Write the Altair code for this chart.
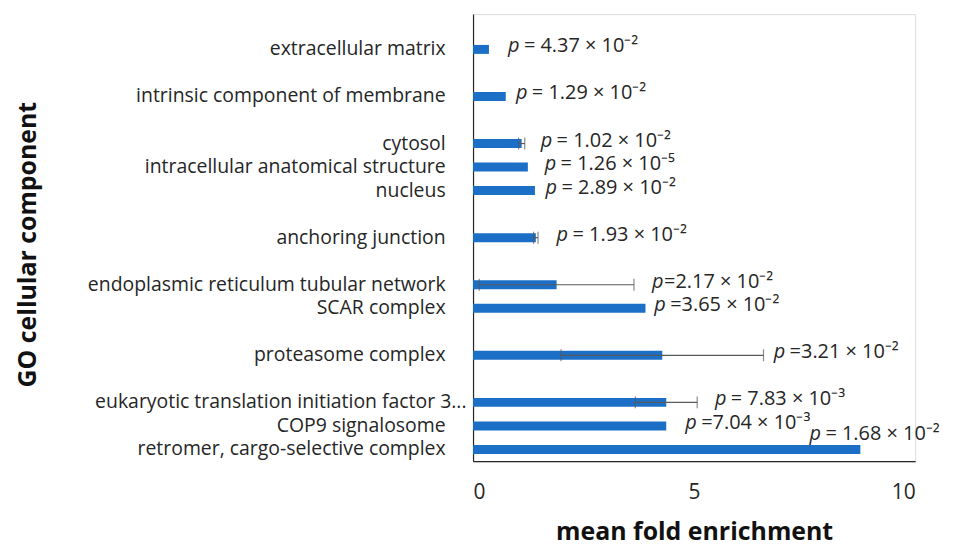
import altair as alt
import pandas as pd

# Row order (top to bottom) including the blank spacer rows of the original chart
slots = [" ", "extracellular matrix", "  ", "intrinsic component of membrane", "   ",
         "cytosol", "intracellular anatomical structure", "nucleus", "    ",
         "anchoring junction", "     ", "endoplasmic reticulum tubular network",
         "SCAR complex", "      ", "proteasome complex", "       ",
         "eukaryotic translation initiation factor 3...", "COP9 signalosome",
         "retromer, cargo-selective complex"]

terms = ["extracellular matrix", "intrinsic component of membrane", "cytosol",
         "intracellular anatomical structure", "nucleus", "anchoring junction",
         "endoplasmic reticulum tubular network", "SCAR complex", "proteasome complex",
         "eukaryotic translation initiation factor 3...", "COP9 signalosome",
         "retromer, cargo-selective complex"]
fold = [0.36, 0.74, 1.10, 1.24, 1.40, 1.42, 1.89, 3.90, 4.28, 4.37, 4.37, 8.76]
err = [0, 0, 0.07, 0, 0, 0.05, 1.75, 0, 2.29, 0.70, 0, 0]
# text following the italic "p" (a leading space means a gap after the p)
p_text = [" = 4.37 × 10⁻²", " = 1.29 × 10⁻²", " = 1.02 × 10⁻²", " = 1.26 × 10⁻⁵",
          " = 2.89 × 10⁻²", " = 1.93 × 10⁻²", "=2.17 × 10⁻²", " =3.65 × 10⁻²",
          " =3.21 × 10⁻²", " = 7.83 × 10⁻³", " =7.04 × 10⁻³", " = 1.68 × 10⁻²"]
label_at = [0.79, 0.97, 1.53, 1.62, 1.64, 1.89, 4.05, 4.10, 6.80, 5.47, 4.80, 7.61]

df = pd.DataFrame({"term": terms, "fold": fold, "err": err, "ptext": p_text,
                   "label_at": label_at})
df["lo"] = df["fold"] - df["err"]
df["hi"] = df["fold"] + df["err"]

FONT = "Open Sans"
BLUE = "#1c6fc6"
GREY = "#595959"
TXT = "#262626"
LONG = "eukaryotic translation initiation factor 3..."
RETRO = "retromer, cargo-selective complex"

y = alt.Y("term:N", sort=slots, scale=alt.Scale(domain=slots, paddingInner=0, paddingOuter=0),
          axis=alt.Axis(title="GO cellular component", ticks=False,
                        labelPadding={"condition": {"test": f"datum.value == '{LONG}'", "value": 7},
                                      "value": 28},
                        labelFontSize=19.5, labelFont=FONT, labelColor=TXT,
                        titleFontSize=25, titleFont=FONT, titleFontWeight="bold",
                        titleColor="#111111", titleX=-447, titleY=231, titleAngle=-90,
                        titleBaseline="middle", titleAlign="center", labelLimit=600,
                        domainColor="#262626", domainWidth=1.2))
x = alt.X("fold:Q", scale=alt.Scale(domain=[0, 10], nice=False),
          axis=alt.Axis(title="mean fold enrichment", values=[0, 5, 10], ticks=False,
                        grid=False, labelPadding=20, labelFontSize=21, labelFont=FONT,
                        labelColor=TXT, titleFontSize=25, titleFont=FONT,
                        titleFontWeight="bold", titleColor="#111111",
                        titleY=79, titleBaseline="alphabetic",
                        domainColor="#262626", domainWidth=1.2))

base = alt.Chart(df)
bars = base.mark_bar(size=9, color=BLUE).encode(y=y, x=x)

eb = base.transform_filter("datum.err > 0")
err_line = eb.mark_rule(color=GREY, strokeWidth=1.2).encode(
    y=alt.Y("term:N", sort=slots), x="lo:Q", x2="hi:Q")
caps_lo = eb.mark_tick(color=GREY, orient="vertical", size=12, thickness=1.2).encode(
    y=alt.Y("term:N", sort=slots), x="lo:Q")
caps_hi = eb.mark_tick(color=GREY, orient="vertical", size=12, thickness=1.2).encode(
    y=alt.Y("term:N", sort=slots), x="hi:Q")

lab = base.transform_calculate(
    gap="indexof(datum.ptext, ' ') == 0", rest="trim(datum.ptext)",
    raised=f"datum.term == '{RETRO}'")

def labels(raised, gap):
    src = lab.transform_filter(f"datum.raised == {str(raised).lower()} && datum.gap == {str(gap).lower()}")
    dy = -15 if raised else -3
    p = src.mark_text(align="left", baseline="middle", font=FONT, fontSize=20,
                      fontStyle="italic", color=TXT, dy=dy).encode(
        y=alt.Y("term:N", sort=slots), x="label_at:Q", text=alt.value("p"))
    rest = src.mark_text(align="left", baseline="middle", font=FONT, fontSize=20,
                         color=TXT, dx=16 if gap else 12, dy=dy).encode(
        y=alt.Y("term:N", sort=slots), x="label_at:Q", text="rest:N")
    return p + rest

chart = alt.layer(bars, err_line, caps_lo, caps_hi,
                  labels(False, True), labels(False, False), labels(True, True)).properties(
    width=444, height=449,
    autosize=alt.AutoSizeParams(type="none"),
    padding={"left": 467, "top": 5, "right": 40, "bottom": 85},
).configure_view(stroke=None).configure(background="white")

chart.save("out.html", embed_options={"renderer": "svg", "actions": False})
